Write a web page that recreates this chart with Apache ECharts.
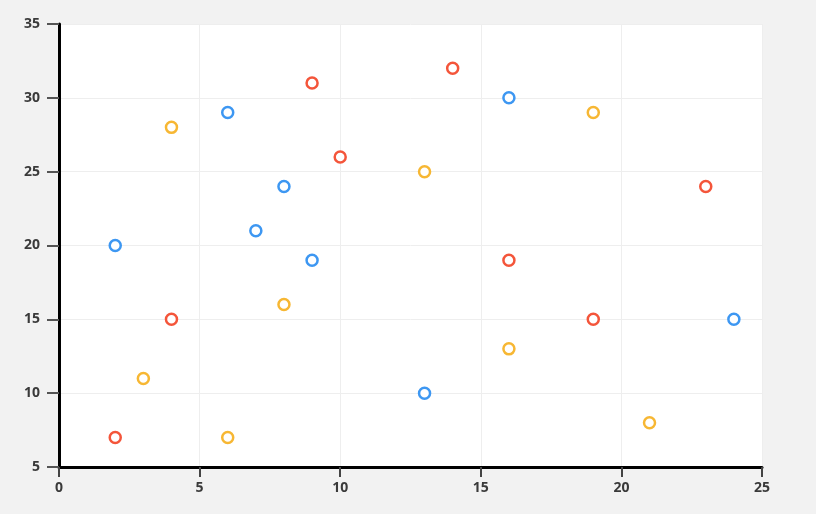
<!DOCTYPE html>
<html><head><meta charset="utf-8">
<script src="https://cdn.jsdelivr.net/npm/echarts@6/dist/echarts.min.js"></script>
<style>html,body{margin:0;padding:0;background:#f2f2f2}#c{width:816px;height:514px}</style>
</head><body><div id="c"></div>
<script>
const redData = [[9,31],[14,32],[10,26],[23,24],[16,19],[4,15],[19,15],[2,7]];
const blueData = [[6,29],[16,30],[8,24],[7,21],[2,20],[9,19],[24,15],[13,10]];
const yellowData = [[4,28],[19,29],[13,25],[8,16],[3,11],[16,13],[6,7],[21,8]];
const xTicks = {min:0, max:25, interval:5};
const yTicks = {min:5, max:35, interval:5};

const chart = echarts.init(document.getElementById('c'));
function ser(data, color){
  return {type:'scatter', data:data, symbol:'circle', symbolSize:11,
    itemStyle:{color:'#ffffff', borderColor:color, borderWidth:2.5, opacity:1}};
}
const lbl = {color:'#3a3a3a', fontWeight:'bold', fontSize:14, fontFamily:'Open Sans'};
chart.setOption({
  backgroundColor:'#f2f2f2',
  animation:false,
  grid:{left:59, right:54, top:24, bottom:47, show:true, backgroundColor:'#ffffff', borderWidth:0},
  xAxis:{type:'value', min:xTicks.min, max:xTicks.max, interval:xTicks.interval,
    axisLine:{show:true, onZero:false, lineStyle:{color:'#000', width:3}},
    axisTick:{show:true, length:10, lineStyle:{color:'#444', width:2}},
    axisLabel:Object.assign({margin:14}, lbl),
    splitLine:{show:true, lineStyle:{color:'#eeeeee', width:1}}},
  yAxis:{type:'value', min:yTicks.min, max:yTicks.max, interval:yTicks.interval,
    axisLine:{show:true, onZero:false, lineStyle:{color:'#000', width:3}},
    axisTick:{show:true, length:12, lineStyle:{color:'#555', width:2}},
    axisLabel:Object.assign({margin:19}, lbl),
    splitLine:{show:true, lineStyle:{color:'#eeeeee', width:1}}},
  series:[ser(redData,'#f4553a'), ser(blueData,'#3d97f2'), ser(yellowData,'#f7b733')]
});
</script></body></html>
